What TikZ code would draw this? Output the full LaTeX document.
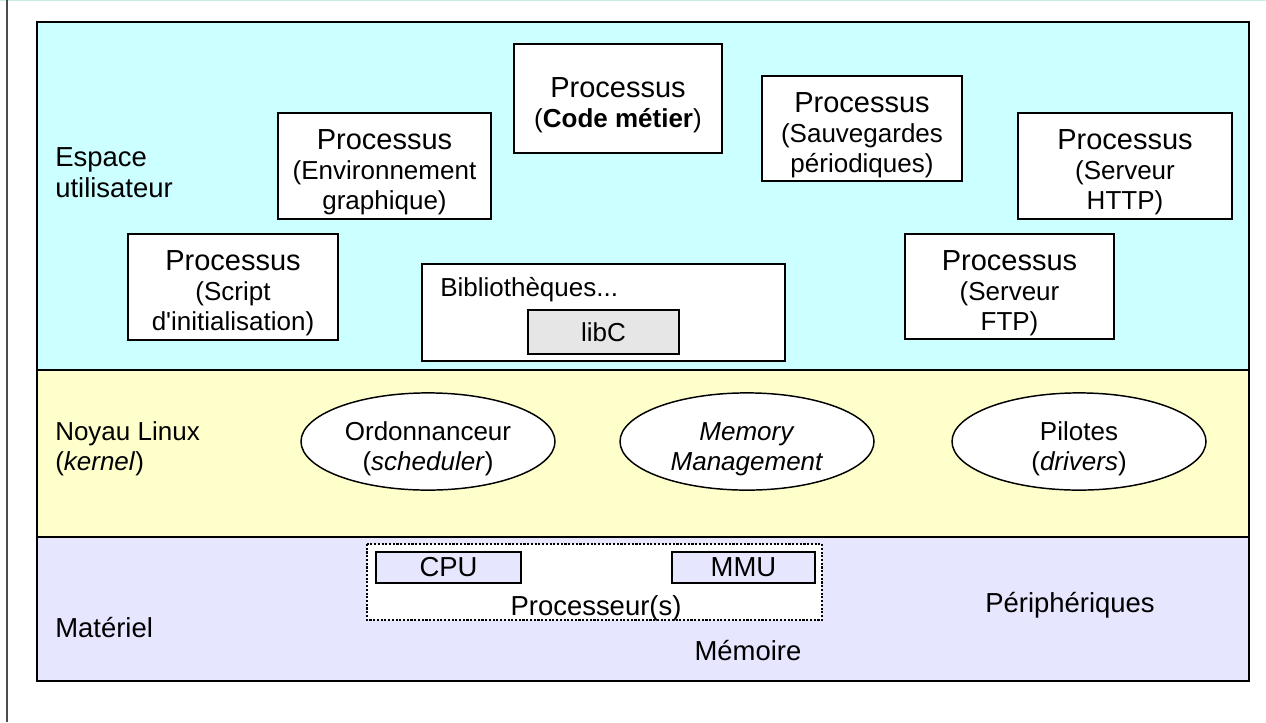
\documentclass[tikz,border=0pt]{standalone}
\usepackage{fontspec}
\setmainfont{Liberation Sans}[Ligatures=TeXOff]
\usetikzlibrary{shapes.geometric}

\definecolor{userbg}{HTML}{CCFFFF}
\definecolor{kernbg}{HTML}{FFFFCC}
\definecolor{hwbg}{HTML}{E6E6FF}
\definecolor{libbg}{HTML}{E6E6E6}
\definecolor{pageedge}{HTML}{C8EEDC}

\newcommand{\lift}{\rule{0pt}{25pt}}
\newcommand{\proctitle}{{\fontsize{21.75}{24}\selectfont\lift Processus}}

\begin{document}
\begin{tikzpicture}[
  x=0.75pt, y=-0.75pt,
  font=\fontsize{19.5}{22.5}\selectfont,
  layer/.style={draw, line width=1.2pt},
  proc/.style 2 args={draw, fill=white, line width=1.1pt, align=center, inner sep=0pt,
    minimum width=#1*0.75pt, minimum height=#2*0.75pt},
  unit/.style={draw, ellipse, fill=white, line width=1.1pt, align=center, inner sep=0pt,
    minimum width=190.5pt, minimum height=63pt},
  chip/.style 2 args={draw, fill=hwbg, line width=1.1pt, inner sep=0pt,
    minimum width=#1*0.75pt, minimum height=#2*0.75pt},
  lbl/.style={align=left, anchor=west, inner sep=0pt},
  large/.style={font=\fontsize{20.6}{23.5}\selectfont}
]
\useasboundingbox (0,0) rectangle (1266,722);
\draw[pageedge, line width=1pt] (0,0.5) -- (1266,0.5);
\draw[black!70, line width=1.2pt] (7,0) -- (7,722);

% the three layers
\draw[layer, fill=userbg] (37,22) rectangle (1249,370);
\draw[layer, fill=kernbg] (37,370) rectangle (1249,537);
\draw[layer, fill=hwbg] (37,537) rectangle (1249,681);

% user space
\node[lbl, large] (user) at (55,173) {Espace\\utilisateur};
\node[proc={208}{109}] (metier) at (618,98.5) {\proctitle\\(\textbf{Code métier})};
\node[proc={200}{105}] (sauve) at (862,128.5) {\proctitle\\(Sauvegardes\\périodiques)};
\node[proc={214}{106}] (http) at (1125,166) {\proctitle\\(Serveur\\HTTP)};
\node[proc={213}{106}] (env) at (384.5,166) {\proctitle\\(Environnement\\graphique)};
\node[proc={210}{106}] (init) at (233,287) {\proctitle\\(Script\\d'initialisation)};
\node[proc={209}{105}] (ftp) at (1009.5,286.5) {\proctitle\\(Serveur\\FTP)};
\node[proc={363}{97}] (biblio) at (603.5,312.5) {};
\node[lbl] (bibtxt) at (440,290) {Bibliothèques...};
\node[proc={151}{44}, fill=libbg] (libc) at (603.5,332) {libC};

% kernel
\node[lbl] (kernel) at (55,449) {Noyau Linux\\(\textit{kernel})};
\node[unit] (sched) at (428,441.5) {\lift Ordonnanceur\\(\textit{scheduler})};
\node[unit] (mm) at (747,441.5) {\lift\textit{Memory}\\\textit{Management}};
\node[unit] (drv) at (1079,441.5) {\lift Pilotes\\(\textit{drivers})};

% hardware
\node[lbl, large] (hw) at (55,628) {Matériel};
\draw[fill=white, line width=1pt, dash pattern=on 1.6pt off 1.2pt] (367,544) rectangle (822,620);
\node[chip={145}{31}, large] (cpu) at (448.5,567.5) {CPU};
\node[chip={143}{31}, large] (mmu) at (743.5,567.5) {MMU};
\node[large] (cpus) at (596,608) {Processeur(s)};
\node[large] (periph) at (1070,605) {Périphériques};
\node[large] (mem) at (748,651) {Mémoire};
\end{tikzpicture}
\end{document}
